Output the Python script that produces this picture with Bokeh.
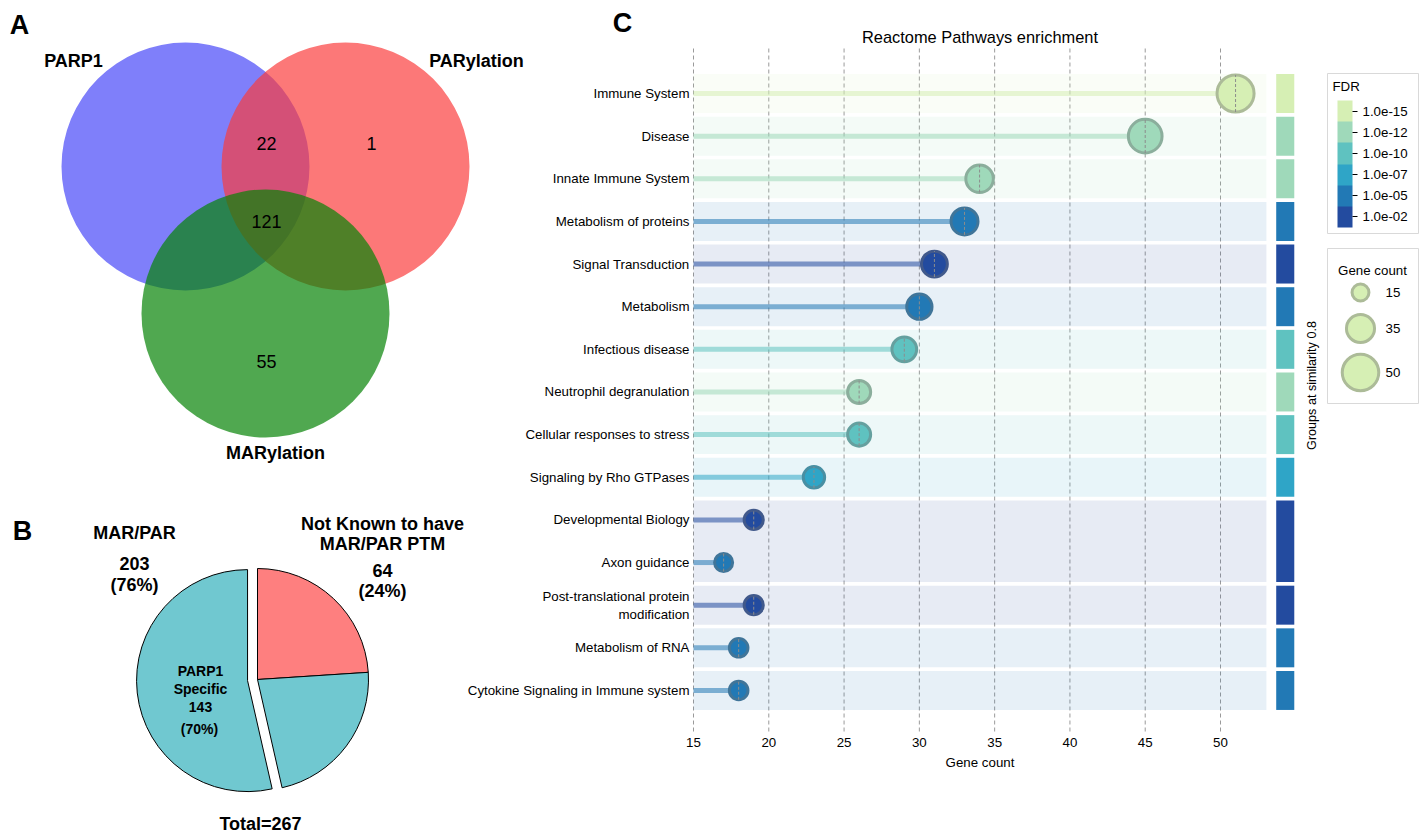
import math
from bokeh.plotting import figure
from bokeh.models import (Range1d, ColumnDataSource, FixedTicker, LinearAxis,
                          ColorBar, LinearColorMapper)
from bokeh.core.properties import value
from bokeh.embed import file_html
from bokeh.resources import INLINE

# ---------------- data ----------------
# Panel A (Venn)
venn_sets = ["PARP1", "PARylation", "MARylation"]
venn_regions = ["PARP1&PARylation", "PARylation only", "All three", "MARylation only"]
venn_counts = [22, 1, 121, 55]

# Panel B (pie)
pie_slices = ["Not Known to have MAR/PAR PTM", "MAR/PAR other", "PARP1 Specific"]
pie_counts = [64, 60, 143]

# Panel C (lollipop)
pathways = ["Immune System", "Disease", "Innate Immune System", "Metabolism of proteins",
            "Signal Transduction", "Metabolism", "Infectious disease",
            "Neutrophil degranulation", "Cellular responses to stress",
            "Signaling by Rho GTPases", "Developmental Biology", "Axon guidance",
            "Post-translational protein modification", "Metabolism of RNA",
            "Cytokine Signaling in Immune system"]
gene_counts = [51, 45, 34, 33, 31, 30, 29, 26, 26, 23, 19, 17, 19, 18, 18]
pathway_fdr = ["1.0e-15", "1.0e-12", "1.0e-12", "1.0e-05", "1.0e-02", "1.0e-05", "1.0e-10",
               "1.0e-12", "1.0e-10", "1.0e-07", "1.0e-02", "1.0e-05", "1.0e-02",
               "1.0e-05", "1.0e-05"]
pathway_group = [1, 2, 3, 4, 5, 6, 7, 8, 9, 10, 11, 11, 12, 13, 14]
fdr_levels = ["1.0e-02", "1.0e-05", "1.0e-07", "1.0e-10", "1.0e-12", "1.0e-15"]
size_legend_counts = [15, 35, 50]
x_ticks = [15, 20, 25, 30, 35, 40, 45, 50]

# ---------------- styles ----------------
FONT = "Liberation Sans"
FDR_COLORS = {"1.0e-02": "#234b9f", "1.0e-05": "#2279b5", "1.0e-07": "#2fa5c7",
              "1.0e-10": "#5fc2c0", "1.0e-12": "#9fd9ba", "1.0e-15": "#d6efb4"}
CFS = "13.3px"


def mix(hexc, t=0.4, g=110):
    h = hexc.lstrip("#")
    r, gg, b = (int(h[i:i + 2], 16) for i in (0, 2, 4))
    return "#%02x%02x%02x" % tuple(int(round((1 - t) * c + t * g)) for c in (r, gg, b))


def msize(n):
    return 8.5 + 0.56 * n


W, H = 1427, 834

p = figure(width=W, height=H, x_range=Range1d(0, W), y_range=Range1d(0, H), title=None,
           output_backend="svg", toolbar_location=None, min_border=0,
           x_axis_type=None, y_axis_type=None)
p.grid.visible = False
p.outline_line_color = None
p.background_fill_color = "white"
p.border_fill_color = "white"


def P(xp, yp):
    return xp, H - yp


def PP(pts):
    xs, ys = zip(*[P(*q) for q in pts])
    return list(xs), list(ys)


def T(x, y, text, size, bold=False, align="center", **kw):
    p.text(x=x, y=y, text=text, text_font=value(FONT), text_font_size=size,
           text_font_style="bold" if bold else "normal", text_align=align,
           text_baseline="middle", text_color="black", **kw)


# ================= Panel A: Venn =================
venn_centers = [(185, 166), (345, 166), (265, 313)]
venn_fill = ["#0000f5", "#fb3b3b", "#058305"]
venn_alpha = [0.5, 0.69, 0.7]
for (cx, cy), col, a in zip(venn_centers, venn_fill, venn_alpha):
    x, y = P(cx, cy)
    p.circle(x=[x], y=[y], radius=124, fill_color=col, fill_alpha=a, line_color=None)

lx, ly = PP([(73, 60), (476, 60), (275, 452)])
T(lx, ly, venn_sets, "18px", bold=True)
cx_, cy_ = PP([(266, 143), (371, 143), (266, 221), (266, 361)])
T(cx_, cy_, [str(v) for v in venn_counts], "18px")

ax_, ay_ = PP([(19, 24), (22, 530), (622, 22)])
T(ax_, ay_, ["A", "B", "C"], "27px", bold=True)

# ================= Panel B: pie =================
total = sum(pie_counts)
pie_cols = ["#fe7f7f", "#70c8d0", "#70c8d0"]
explode = [0, 0, 10]
pcx, pcy = P(257, 679)
start = 90.0
for cnt, col, ex in zip(pie_counts, pie_cols, explode):
    end = start
    start = end - cnt / total * 360.0
    mid = math.radians((start + end) / 2)
    p.wedge(x=[pcx + ex * math.cos(mid)], y=[pcy + ex * math.sin(mid)], radius=111,
            start_angle=math.radians(start), end_angle=math.radians(end),
            fill_color=col, line_color="black", line_width=1)

marpar = pie_counts[1] + pie_counts[2]
pie_texts = ["MAR/PAR", str(marpar), "(%d%%)" % round(100 * marpar / total),
             "Not Known to have", "MAR/PAR PTM", str(pie_counts[0]),
             "(%d%%)" % round(100 * pie_counts[0] / total),
             "Total=%d" % total]
tx, ty = PP([(134, 532), (134, 563), (134, 584), (382, 523), (382, 543), (382, 570),
             (382, 590), (260, 823)])
T(tx, ty, pie_texts, "18px", bold=True)
inner = ["PARP1", "Specific", str(pie_counts[2]), "(%d%%)" % round(100 * pie_counts[2] / marpar)]
ix, iy = PP([(200, 670), (200, 688), (200, 706), (199, 728)])
T(ix, iy, inner, "14px", bold=True)

# ================= Panel C: lollipop =================
N = len(pathways)
PX15, PX50 = 693, 1220           # pixel anchors of gene count 15 and 50
ppu = (PX50 - PX15) / 35.0
ROW0_Y, ROW_H = 93.0, 42.64      # pixel centre of first row, row pitch
FRAME_T, FRAME_B = 48, 732
BAND_END = 53.05
GBAR = (53.7, 54.9)


def rowv(py):
    return (N - 1) - (py - ROW0_Y) / ROW_H


def genev(px):
    return 15 + (px - PX15) / ppu


p.extra_x_ranges = {"gene": Range1d(genev(0), genev(W))}
p.extra_y_ranges = {"rows": Range1d(rowv(H), rowv(0))}
C = dict(x_range_name="gene", y_range_name="rows")

yv = [N - 1 - i for i in range(N)]

# grid lines
p.segment(x0=x_ticks, x1=x_ticks, y0=rowv(FRAME_T), y1=rowv(FRAME_B),
          line_color="#9a9a9a", line_dash="4 3", line_width=1, **C)

# group bands & group bars
groups = []
for i, g in enumerate(pathway_group):
    if not groups or groups[-1][0] != g:
        groups.append([g, i, i])
    else:
        groups[-1][2] = i
gsrc = ColumnDataSource(dict(
    top=[yv[a] + 0.457 for _, a, b in groups],
    bottom=[yv[b] - 0.457 for _, a, b in groups],
    color=[FDR_COLORS[pathway_fdr[a]] for _, a, b in groups],
))
p.quad(left=15, right=BAND_END, top="top", bottom="bottom", source=gsrc,
       fill_color="color", fill_alpha=0.11, line_color=None, **C)
p.quad(left=GBAR[0], right=GBAR[1], top="top", bottom="bottom", source=gsrc,
       fill_color="color", fill_alpha=1.0, line_color=None, **C)

src = ColumnDataSource(dict(
    y=yv, count=gene_counts,
    color=[FDR_COLORS[f] for f in pathway_fdr],
    edge=[mix(FDR_COLORS[f]) for f in pathway_fdr],
    size=[msize(n) for n in gene_counts],
))
p.segment(x0=15, y0="y", x1="count", y1="y", source=src,
          line_color="color", line_alpha=0.55, line_width=5, **C)
p.scatter(x="count", y="y", size="size", source=src, marker="circle",
          fill_color="color", line_color="edge", line_width=3, **C)
p.scatter(x="count", y="y", size="size", source=src, marker="dash",
          angle=math.pi / 2, line_color="#8c8c8c", line_dash="3 2", line_width=1, **C)

# axes
labels = {v: name for v, name in zip(yv, pathways)}
labels[yv[pathways.index("Post-translational protein modification")]] = \
    "Post-translational protein\nmodification"
yax = LinearAxis(ticker=FixedTicker(ticks=yv), major_label_overrides=labels,
                 fixed_location=15, **C)
xax = LinearAxis(ticker=FixedTicker(ticks=x_ticks), fixed_location=rowv(FRAME_B),
                 bounds=(15, BAND_END), axis_label="Gene count", **C)
for ax in (yax, xax):
    ax.major_label_text_font = FONT
    ax.major_label_text_font_size = CFS
    ax.major_label_text_color = "black"
    ax.major_tick_out = 0
    ax.major_tick_in = 0
    ax.minor_tick_out = 0
    ax.minor_tick_in = 0
    ax.axis_line_color = None
yax.major_label_standoff = 4
xax.major_label_standoff = 5
xax.axis_label_text_font = FONT
xax.axis_label_text_font_size = CFS
xax.axis_label_text_font_style = "normal"
xax.axis_label_text_color = "black"
xax.axis_label_standoff = 5
p.add_layout(yax, "left")
p.add_layout(xax, "below")

# title and side label
T([(15 + BAND_END) / 2], [rowv(36)], ["Reactome Pathways enrichment"], "16.4px", **C)
T([genev(1311)], [rowv(385)], ["Groups at similarity 0.8"], "12.6px", angle=math.pi / 2, **C)

# FDR legend: box, title, colour bar
fx0, fy0 = P(1327, 73)
fx1, fy1 = P(1418, 233)
p.quad(left=fx0, right=fx1, top=fy0, bottom=fy1, fill_color="white",
       line_color="#d9d9d9", line_width=1)
fdx, fdy = PP([(1332, 86)])
T(fdx, fdy, ["FDR"], CFS, align="left")
mapper = LinearColorMapper(palette=[FDR_COLORS[l] for l in fdr_levels],
                           low=0.5, high=len(fdr_levels) + 0.5)
cb = ColorBar(color_mapper=mapper, ticker=FixedTicker(ticks=list(range(1, len(fdr_levels) + 1))),
              major_label_overrides={i + 1: l for i, l in enumerate(fdr_levels)},
              orientation="vertical", width=15, height=127, padding=0,
              location=(1337, H - 227),
              major_label_text_font=FONT, major_label_text_font_size=CFS,
              major_label_text_color="black",
              major_tick_out=5, major_tick_in=0, major_tick_line_color="black",
              minor_tick_line_color=None, bar_line_color=None, label_standoff=5,
              border_line_color=None, background_fill_alpha=0)
p.add_layout(cb)

# Gene count size legend
bx0, by0 = P(1327, 248)
bx1, by1 = P(1418, 403)
p.quad(left=bx0, right=bx1, top=by0, bottom=by1, fill_color="white",
       line_color="#d9d9d9", line_width=1)
gx, gy = PP([(1372, 270)])
T(gx, gy, ["Gene count"], CFS)
cxs, cys = PP([(1360, 292), (1360, 328), (1360, 372)])
lxs, _ = PP([(1385, 0)] * 3)
lsrc = ColumnDataSource(dict(x=cxs, y=cys, lx=lxs, size=[msize(n) for n in size_legend_counts],
                             lab=[str(n) for n in size_legend_counts]))
p.scatter(x="x", y="y", size="size", source=lsrc,
          fill_color=FDR_COLORS["1.0e-15"], line_color=mix(FDR_COLORS["1.0e-15"]), line_width=3)
p.text(x="lx", y="y", text="lab", source=lsrc, text_font=value(FONT), text_font_size=CFS,
       text_align="left", text_baseline="middle", text_color="black")

open("out.html", "w").write(file_html(p, INLINE))
